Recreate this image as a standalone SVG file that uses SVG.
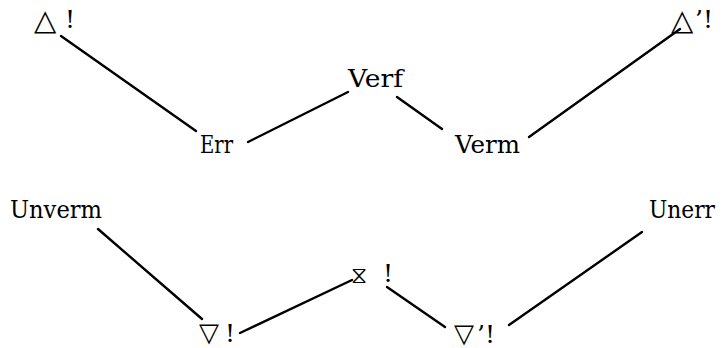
<svg xmlns="http://www.w3.org/2000/svg" width="722" height="348" viewBox="0 0 722 348">
<style>
.t{font-family:"DejaVu Serif","Liberation Serif",serif;font-size:25px;fill:#000}
.s{font-family:"DejaVu Sans","Liberation Sans",sans-serif;fill:#000}
.c line{stroke:#000;stroke-width:2.4;stroke-linecap:round}
</style>
<rect width="722" height="348" fill="#fff"/>
<g class="c" id="connectors">
<line x1="61" y1="36" x2="196" y2="131"/>
<line x1="248" y1="142" x2="348" y2="92"/>
<line x1="397" y1="97" x2="442" y2="129"/>
<line x1="529" y1="137" x2="680" y2="29"/>
<line x1="98" y1="229" x2="202" y2="319"/>
<line x1="240" y1="333" x2="352" y2="280"/>
<line x1="387" y1="287" x2="445" y2="327"/>
<line x1="509" y1="325" x2="642" y2="232"/>
</g>
<g id="delta"><text class="s" x="34" y="30" font-size="29">△</text><text class="t" x="65" y="28">!</text></g>
<g id="deltaprime"><text class="s" x="671" y="30" font-size="29">△</text><text class="t" x="695" y="28">’!</text></g>
<g id="verf"><text class="t" x="348" y="87" textLength="55" lengthAdjust="spacingAndGlyphs">Verf</text></g>
<g id="err"><text class="t" x="200" y="153" textLength="33" lengthAdjust="spacingAndGlyphs">Err</text></g>
<g id="verm"><text class="t" x="455" y="153" textLength="65" lengthAdjust="spacingAndGlyphs">Verm</text></g>
<g id="unverm"><text class="t" x="10" y="218" textLength="92" lengthAdjust="spacingAndGlyphs">Unverm</text></g>
<g id="unerr"><text class="t" x="649" y="218" textLength="66" lengthAdjust="spacingAndGlyphs">Unerr</text></g>
<g id="hourglass"><text class="s" x="351" y="283" font-size="23">⧖</text><text class="t" x="383" y="282">!</text></g>
<g id="nabla"><text class="s" x="199" y="341" font-size="26">▽</text><text class="t" x="225" y="342">!</text></g>
<g id="nablaprime"><text class="s" x="454" y="342" font-size="26">▽</text><text class="t" x="477" y="343">’!</text></g>
</svg>
